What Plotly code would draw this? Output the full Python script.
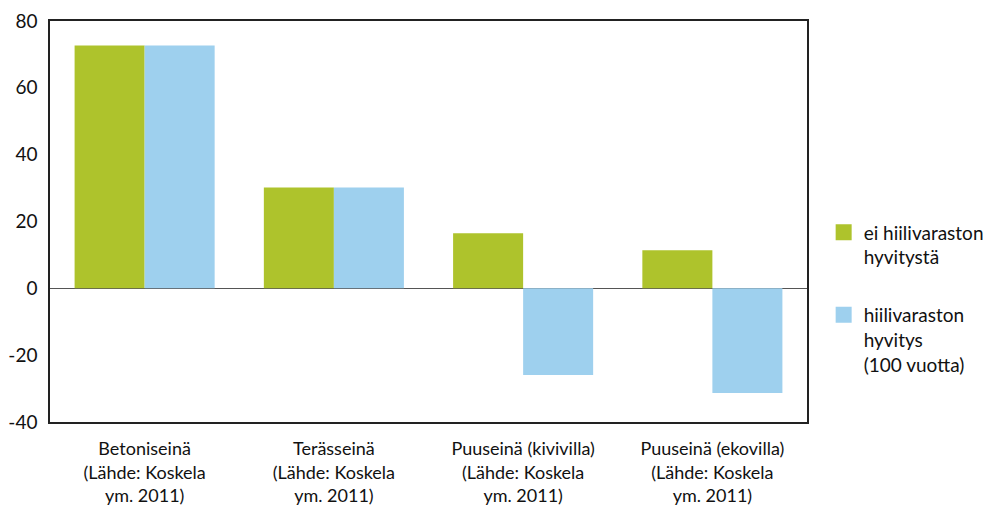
import plotly.graph_objects as go

categories = [
    "Betoniseinä<br>(Lähde: Koskela<br>ym. 2011)",
    "Terässeinä<br>(Lähde: Koskela<br>ym. 2011)",
    "Puuseinä (kivivilla)<br>(Lähde: Koskela<br>ym. 2011)",
    "Puuseinä (ekovilla)<br>(Lähde: Koskela<br>ym. 2011)",
]
ei_hyvitysta = [72.7, 30.2, 16.5, 11.4]
hyvitys_100v = [72.7, 30.2, -25.9, -31.3]
series_names = ["ei hiilivaraston<br>hyvitystä", "hiilivaraston<br>hyvitys<br>(100 vuotta)"]
y_ticks = [-40, -20, 0, 20, 40, 60, 80]
y_tick_labels = ["-40", "-20", "0", "20", "40", "60", "80"]

GREEN = "#AEC32C"
BLUE = "#9ED0EE"
FONT = "Lato, 'Open Sans', sans-serif"

fig = go.Figure()
for name, values, color, group in [
    (series_names[0], ei_hyvitysta, GREEN, "g1"),
    (series_names[1], hyvitys_100v, BLUE, "g2"),
]:
    fig.add_trace(go.Bar(x=categories, y=values, name=name, legendgroup=group,
                         showlegend=False,
                         marker=dict(color=color, line=dict(width=0))))
    # larger square swatch for the legend entry
    fig.add_trace(go.Scatter(x=[None], y=[None], mode="markers", name=name,
                             legendgroup=group, showlegend=True,
                             marker=dict(symbol="square", size=16, color=color,
                                         line=dict(width=0))))

fig.update_layout(
    width=985, height=506,
    margin=dict(l=50, r=178, t=21, b=84, autoexpand=False),
    paper_bgcolor="white", plot_bgcolor="white",
    barmode="group", bargap=0.26, bargroupgap=0,
    font=dict(family=FONT, size=18, color="#111111"),
    showlegend=True,
    legend=dict(
        x=1.022, y=0.52, xanchor="left", yanchor="top",
        valign="top", tracegroupgap=30,
        font=dict(family=FONT, size=19, color="#111111"),
        bgcolor="rgba(0,0,0,0)",
    ),
)
fig.update_xaxes(
    showline=True, linecolor="#222222", linewidth=1.5, mirror=True,
    ticks="", showgrid=False, ticklabelstandoff=10,
    tickfont=dict(family=FONT, size=18),
)
fig.update_yaxes(
    range=[-40, 80], tickvals=y_ticks, ticktext=y_tick_labels,
    showline=True, linecolor="#222222", linewidth=1.5, mirror=True,
    ticks="", showgrid=False,
    zeroline=True, zerolinecolor="#555555", zerolinewidth=1,
    ticklabelstandoff=7,
    tickfont=dict(family=FONT, size=19),
)

fig.write_html("out.html")
